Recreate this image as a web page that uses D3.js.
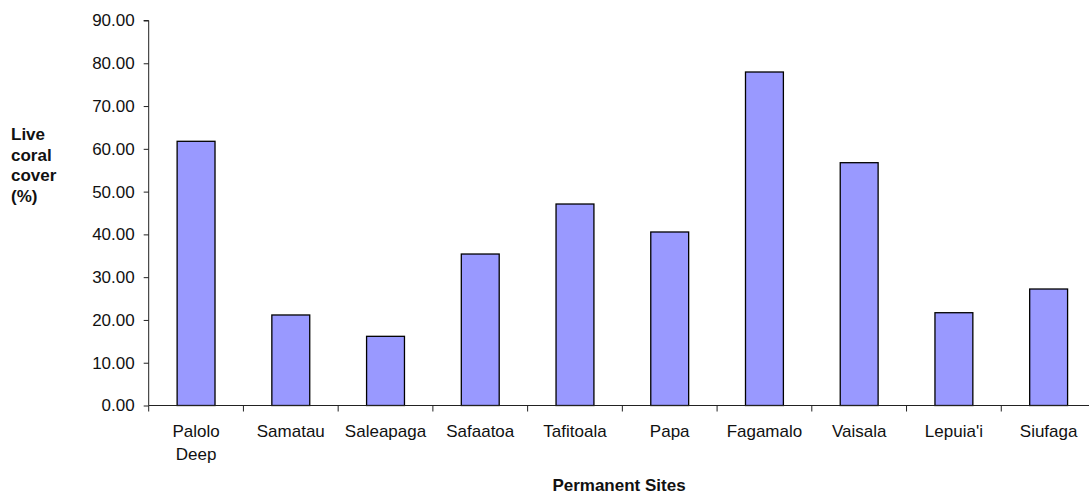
<!DOCTYPE html>
<html>
<head>
<meta charset="utf-8">
<script src="https://cdn.jsdelivr.net/npm/d3@7"></script>
<style>
  html, body { margin: 0; padding: 0; background: #fff; }
  svg { display: block; font-family: "Liberation Sans", Arial, sans-serif; }
</style>
</head>
<body>
<svg id="chart" width="1089" height="495"></svg>
<script>
// Live coral cover per permanent monitoring site
const sites = ["Palolo Deep", "Samatau", "Saleapaga", "Safaatoa", "Tafitoala",
               "Papa", "Fagamalo", "Vaisala", "Lepuia'i", "Siufaga"];
const coverValues = [61.76, 21.16, 16.17, 35.41, 47.10, 40.56, 77.96, 56.76, 21.69, 27.23];
const yTicks = [0, 10, 20, 30, 40, 50, 60, 70, 80, 90];
const yTitleLines = ["Live", "coral", "cover", "(%)"];
const xTitle = "Permanent Sites";

const svg = d3.select("#chart");
const x0 = 148.7, x1 = 1096, yBottom = 405.5, yTop = 20.5;

const x = d3.scaleBand().domain(sites).range([x0, x1]).paddingInner(0).paddingOuter(0);
const y = d3.scaleLinear().domain([0, 90]).range([yBottom, yTop]);
const barW = x.bandwidth() / 2.5;

// bars
svg.append("g").selectAll("rect")
  .data(sites)
  .join("rect")
  .attr("x", (d) => x(d) + (x.bandwidth() - barW) / 2)
  .attr("y", (d, i) => y(coverValues[i]))
  .attr("width", barW)
  .attr("height", (d, i) => yBottom - y(coverValues[i]))
  .attr("fill", "#9999FF")
  .attr("stroke", "#000")
  .attr("stroke-width", 1.3);

// y axis
const yAxis = d3.axisLeft(y).tickValues(yTicks).tickFormat(d3.format(".2f")).tickSize(5).tickPadding(9);
const gy = svg.append("g").attr("transform", `translate(${x0},0)`).call(yAxis);
gy.select(".domain").attr("stroke", "#222").attr("d", `M-5,${yTop}H0V${yBottom}`);
gy.selectAll(".tick line").attr("stroke", "#222");
gy.selectAll(".tick text").attr("font-size", 17).attr("fill", "#111")
  .attr("font-family", "Liberation Sans, Arial, sans-serif");

// x axis: ticks sit on band boundaries
const xAxisG = svg.append("g");
xAxisG.append("line")
  .attr("x1", x0).attr("x2", x1).attr("y1", yBottom).attr("y2", yBottom)
  .attr("stroke", "#222");
const boundaries = sites.map((d) => x(d)).concat([x1]);
xAxisG.selectAll("line.tk").data(boundaries).join("line")
  .attr("class", "tk")
  .attr("x1", (d) => d).attr("x2", (d) => d)
  .attr("y1", yBottom).attr("y2", yBottom + 6)
  .attr("stroke", "#222");

// category labels (wrap two-word names)
const lbl = svg.append("g").attr("font-size", 17).attr("fill", "#111").attr("text-anchor", "middle");
sites.forEach((s) => {
  const words = s.split(" ");
  const t = lbl.append("text").attr("x", x(s) + x.bandwidth() / 2).attr("y", 437);
  words.forEach((w, k) => {
    t.append("tspan").attr("x", x(s) + x.bandwidth() / 2).attr("dy", k === 0 ? 0 : 23).text(w);
  });
});

// axis titles
const yt = svg.append("text").attr("font-size", 17).attr("font-weight", "bold").attr("fill", "#111");
yTitleLines.forEach((w, k) => {
  yt.append("tspan").attr("x", 11).attr("y", 140 + k * 20.5).text(w);
});
svg.append("text")
  .attr("x", 619).attr("y", 491)
  .attr("text-anchor", "middle")
  .attr("font-size", 17).attr("font-weight", "bold").attr("fill", "#111")
  .text(xTitle);
</script>
</body>
</html>
